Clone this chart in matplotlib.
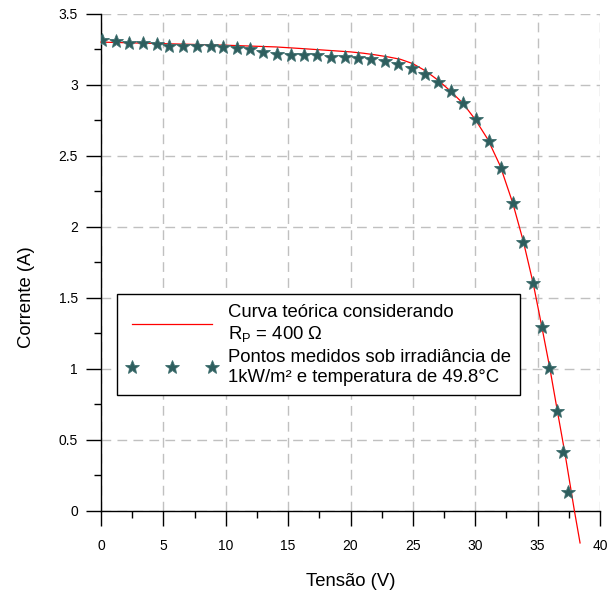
import numpy as np
import matplotlib.pyplot as plt
from matplotlib.ticker import MultipleLocator

plt.rcParams['font.family'] = ['Liberation Sans', 'DejaVu Sans']

# measured points (V, A)
v_medido = [0.06, 1.18, 2.27, 3.34, 4.46, 5.48, 6.60, 7.67, 8.79, 9.80,
            10.88, 11.94, 13.00, 14.13, 15.20, 16.29, 17.35, 18.41, 19.52, 20.60,
            21.66, 22.73, 23.80, 24.90, 25.97, 26.99, 28.05, 29.04, 30.06, 31.12,
            32.03, 32.99, 33.85, 34.65, 35.37, 35.93, 36.52, 37.06, 37.46]
i_medido = [3.317, 3.310, 3.298, 3.298, 3.287, 3.277, 3.277, 3.275, 3.273, 3.265,
            3.258, 3.251, 3.229, 3.216, 3.211, 3.211, 3.208, 3.199, 3.199, 3.188,
            3.181, 3.167, 3.146, 3.117, 3.077, 3.023, 2.960, 2.875, 2.758, 2.606,
            2.413, 2.167, 1.894, 1.603, 1.298, 1.005, 0.704, 0.418, 0.136]

# theoretical curve, Rp = 400 ohm
v_teorico = [0.0, 5.0, 10.0, 14.0, 16.0, 18.0, 20.0, 21.0, 22.0, 23.0,
             24.0, 25.0, 26.0, 27.0, 28.0, 29.0, 30.0, 31.0, 32.0, 33.0,
             33.85, 34.65, 35.33, 35.99, 36.6, 37.2, 37.95, 38.4]
i_teorico = [3.302, 3.291, 3.280, 3.268, 3.257, 3.245, 3.233, 3.224, 3.212, 3.198,
             3.181, 3.150, 3.100, 3.035, 2.958, 2.872, 2.757, 2.618, 2.430, 2.170,
             1.900, 1.600, 1.300, 1.000, 0.695, 0.400, 0.0, -0.225]

fig = plt.figure(figsize=(6.07, 5.90), dpi=100)
ax = fig.add_axes([0.1664, 0.1339, 0.8221, 0.8424])

ax.plot(v_teorico, i_teorico, color='#ff0000', lw=0.9, clip_on=False, zorder=3,
        label='Curva teórica considerando\nR$_\\mathregular{P}$ = 400 Ω')
ax.plot(v_medido, i_medido, ls='none', marker='*', ms=10, color='#2e5e5e',
        mec='#3f6f6f', mew=0.6, zorder=4,
        label='Pontos medidos sob irradiância de\n1kW/m² e temperatura de 49.8°C')

ax.set_xlim(0, 40)
ax.set_ylim(0, 3.5)
ax.xaxis.set_major_locator(MultipleLocator(5))
ax.xaxis.set_minor_locator(MultipleLocator(2.5))
ax.yaxis.set_major_locator(MultipleLocator(0.5))
ax.yaxis.set_minor_locator(MultipleLocator(0.25))
ax.yaxis.set_major_formatter(plt.FuncFormatter(lambda y, p: '%g' % y))

ax.spines['top'].set_visible(False)
ax.spines['right'].set_visible(False)
for s in ('left', 'bottom'):
    ax.spines[s].set_linewidth(1.0)

ax.tick_params(which='major', direction='out', length=10.5, width=1.0,
               labelsize=10, color='black')
ax.tick_params(which='minor', direction='out', length=5, width=1.0, color='black')
ax.tick_params(axis='x', which='major', pad=10)
ax.tick_params(axis='y', which='major', pad=6)

ax.grid(True, which='major', color='#c0c0c0', linestyle=(0, (7, 4.5)), lw=1.0)
ax.set_axisbelow(True)

ax.set_xlabel('Tensão (V)', fontsize=13.3)
ax.set_ylabel('Corrente (A)', fontsize=13.3)
ax.xaxis.set_label_coords(0.5, -0.124)
ax.yaxis.set_label_coords(-0.132, 0.43)

leg = ax.legend(loc='upper left', bbox_to_anchor=(0.0327, 0.436), borderaxespad=0,
                fontsize=13.3, numpoints=3, handlelength=4.9, handletextpad=0.6,
                borderpad=0.5, labelspacing=0.3, frameon=True, fancybox=False,
                framealpha=1, edgecolor='black')
leg.get_frame().set_linewidth(1.0)

fig.savefig('out.png', dpi=100)
